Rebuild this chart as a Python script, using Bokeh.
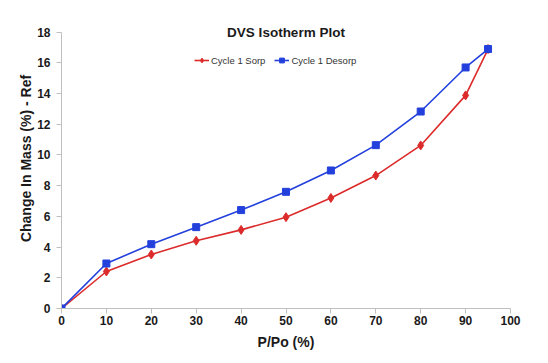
from bokeh.plotting import figure
from bokeh.models import Range1d, FixedTicker, Label, Legend, LegendItem
from bokeh.embed import file_html
from bokeh.resources import INLINE

x_vals = [0, 10, 20, 30, 40, 50, 60, 70, 80, 90, 95]
sorp = [0.0, 2.41, 3.52, 4.41, 5.12, 5.95, 7.2, 8.66, 10.62, 13.88, 16.9]
desorp = [0.0, 2.93, 4.19, 5.3, 6.41, 7.6, 8.99, 10.64, 12.83, 15.7, 16.9]
x_ticks = [0, 10, 20, 30, 40, 50, 60, 70, 80, 90, 100]
y_ticks = [0, 2, 4, 6, 8, 10, 12, 14, 16, 18]
title_text = "DVS Isotherm Plot"

FONT = "Liberation Sans"
RED = "#dc2b2b"
BLUE = "#2340dc"
AXC = "#bfbfbf"

p = figure(width=540, height=355, output_backend="svg", toolbar_location=None,
           x_range=Range1d(0, 100), y_range=Range1d(0, 19.54),
           min_border_left=61, min_border_right=30, min_border_top=8, min_border_bottom=47)
p.outline_line_color = None
p.xgrid.visible = False
p.ygrid.visible = False

for ax in (p.xaxis[0], p.yaxis[0]):
    ax.axis_line_color = AXC
    ax.major_tick_line_color = AXC
    ax.minor_tick_line_color = None
    ax.major_tick_in = 0
    ax.major_tick_out = 5
    ax.major_label_text_font = FONT
    ax.major_label_text_font_style = "bold"
    ax.major_label_text_font_size = "12px"
    ax.major_label_text_color = "#1a1a1a"
    ax.axis_label_text_font = FONT
    ax.axis_label_text_font_style = "bold"
    ax.axis_label_text_font_size = "14px"
    ax.axis_label_text_color = "#1a1a1a"

p.xaxis.ticker = FixedTicker(ticks=x_ticks)
p.yaxis.ticker = FixedTicker(ticks=y_ticks)
p.yaxis.bounds = (y_ticks[0], y_ticks[-1])
p.xaxis.axis_label = "P/Po (%)"
p.yaxis.axis_label = "Change In Mass (%) - Ref"
p.xaxis.major_label_standoff = 2
p.yaxis.major_label_standoff = 6
p.xaxis.axis_label_standoff = 6
p.yaxis.axis_label_standoff = 0

l1 = p.line(x_vals, sorp, line_color=RED, line_width=1.6)
m1 = p.scatter(x_vals, sorp, marker="diamond", size=9, fill_color=RED, line_color=RED)
l2 = p.line(x_vals, desorp, line_color=BLUE, line_width=1.6)
m2 = p.scatter(x_vals, desorp, marker="square", size=7, fill_color=BLUE, line_color=BLUE)

title = Label(x=50, y=18, text=title_text,
              text_font=FONT, text_font_style="bold", text_font_size="13.5px",
              text_color="#1a1a1a", text_align="center", text_baseline="middle")
p.add_layout(title)

legend = Legend(items=[LegendItem(label="Cycle 1 Sorp", renderers=[l1, m1]),
                       LegendItem(label="Cycle 1 Desorp", renderers=[l2, m2])],
                orientation="horizontal", location=(133, 242),
                border_line_color=None, background_fill_alpha=0,
                label_text_font=FONT, label_text_font_size="9.5px", label_text_color="#333333",
                glyph_width=15, glyph_height=12, label_standoff=2, spacing=9,
                padding=0, margin=0, label_height=12)
p.add_layout(legend)

open("out.html", "w").write(file_html(p, INLINE))
